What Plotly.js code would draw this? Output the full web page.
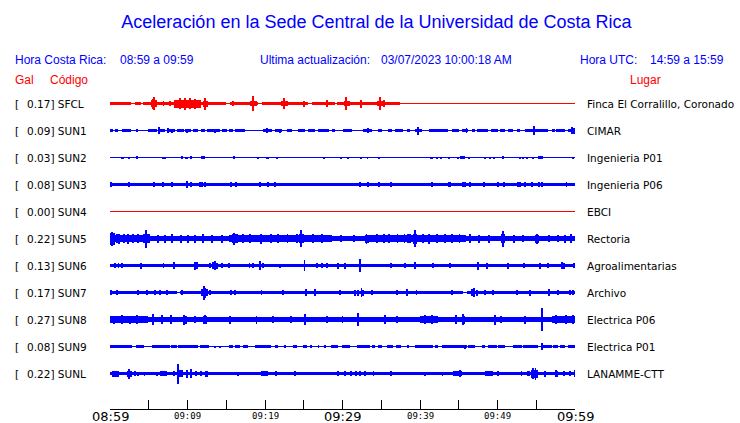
<!DOCTYPE html>
<html><head><meta charset="utf-8">
<script src="https://cdn.plot.ly/plotly-3.0.1.min.js"></script>
<style>html,body{margin:0;padding:0;background:#fff}#chart{width:740px;height:423px}</style>
</head><body><div id="chart"></div>
<script>
// ---------------- DATA ----------------
const stationCodes  = ['SFCL','SUN1','SUN2','SUN3','SUN4','SUN5','SUN6','SUN7','SUN8','SUN9','SUNL'];
const stationPlaces = ['Finca El Corralillo, Coronado','CIMAR','Ingenieria P01','Ingenieria P06','EBCI','Rectoria','Agroalimentarias','Archivo','Electrica P06','Electrica P01','LANAMME-CTT'];
const peakGal       = ['0.17','0.09','0.03','0.08','0.00','0.22','0.13','0.17','0.27','0.08','0.22'];
const tickMinutes   = [0,5,10,15,20,25,30,35,40,45,50,55,60];           // minutes after 08:59
const tickLabels    = ['08:59','','09:09','','09:19','','09:29','','09:39','','09:49','','09:59'];
const majorTickLabels = ['08:59','09:29','09:59'];

// Envelope of each record: bands = [startMin, endMin, halfAmplitude], spikes = [minute, halfAmplitude]
const sfclBands = [[0,2.7,1.5],[3.2,4.0,1.5],[4.2,15.0,1.5],[15.5,19.1,1.5],[19.6,25.6,1.5],[26.0,29.0,1.5],[29.3,37.4,1.5],
  [5.3,6.1,3.5],[8.3,11.8,4],[12.0,12.6,3],[18.0,19.0,2.5],[22.1,23.0,2.5],[30.2,31.0,2.5],[34.4,35.3,2.5]];
const sfclSpikes = [[5.7,6.5],[5.5,5],[9.0,5.5],[9.7,6],[10.3,5.5],[11.0,5],[12.2,6],[18.4,7.3],[22.4,5.3],[25.0,3],[28.0,3.3],
  [30.5,6.7],[32.4,4],[34.8,6.7],[6.9,2.5],[7.7,2.5],[15.9,2.5],[35.3,3.5]];

const sun1Bands = [[0,0.4,1.5],[0.65,1.0,1.5],[1.6,2.7,1.5],[3.4,3.65,1.5],[4.9,6.0,1.5],[6.45,7.1,1.5],[7.3,8.4,1.5],[8.6,9.5,1.5],
  [9.7,10.5,1.5],[10.75,11.4,1.5],[11.8,12.25,1.5],[12.5,14.2,1.5],[14.4,15.05,1.5],[15.3,15.9,1.5],[16.1,17.4,1.5],[19.8,20.9,1.5],
  [21.3,22.15,1.5],[22.8,23.45,1.5],[24.3,25.2,1.5],[25.5,26.45,1.5],[26.9,28.2,1.5],[28.6,29.0,1.5],[30.1,31.2,1.5],[32.7,33.8,1.5],
  [34.6,35.05,1.5],[35.9,36.35,1.5],[36.8,37.85,1.5],[38.3,38.7,1.5],[39.35,40.2,1.5],[41.1,43.65,1.5],[44.1,45.0,1.5],[45.4,46.2,1.5],
  [46.65,47.1,1.5],[47.3,48.8,1.5],[49.2,50.1,1.5],[50.3,50.95,1.5],[51.4,52.05,1.5],[52.5,52.9,1.5],[53.5,56.55,1.5],[57.0,57.4,1.5],
  [57.6,58.7,1.5],[59.1,60,1.5]];
const sun1Spikes = [[6.3,3.3],[7.5,2.3],[8.0,2],[9.9,2],[13.5,2],[20.2,2.7],[21.9,2],[33.3,2.3],[39.7,4],[46.0,2.3],[54.7,4.3],[59.6,3.3],[59.85,3]];

const sun2Bands = [[1.4,1.85,1],[2.3,2.6,1],[6.75,7.2,1],[9.7,10.0,1],[11.75,12.25,1.5],[20.1,20.5,1],[21.4,21.7,1],[32.25,32.5,1],
  [33.1,33.3,1],[41.3,41.7,1],[43.65,43.9,1],[45.15,45.8,1.3],[55.25,55.9,1.3]];
const sun2Spikes = [[3.5,1.5],[9.25,1.3],[10.45,1.3],[16.0,1.3],[19.15,1],[27.65,1],[29.8,1],[30.75,1],[34.7,1],[42.15,1],[42.7,1],
  [44.9,1],[46.3,1],[48.4,1],[49.0,1],[49.6,1],[50.75,1.3],[52.9,1],[53.35,1],[53.8,1],[54.55,1],[59.8,1]];

const sun3Bands = [[0,60,1.7]];
const sun3Spikes = [[0.1,2.3],[2.5,2.3],[5.7,2.3],[6.8,2.3],[7.95,2.3],[9.9,3.3],[10.4,2.3],[11.6,2.5],[11.9,2.5],[12.2,2.5],[15.6,2.3],
  [16.2,2.3],[19.3,2.3],[20.35,2.3],[21.3,2.3],[32.25,2.3],[33.25,2.3],[34.75,2.3],[36.25,2.3],[41.6,2.3],[43.7,2.3],[43.9,2.3],
  [45.5,2.3],[45.8,2.3],[46.45,2.3],[48.3,2.3],[50.1,2.3],[50.85,2.3],[52.7,2.3],[52.9,2.3],[53.6,2.3],[54.5,2.3],[55.3,2.3],[55.7,2.3],[58.9,2.3]];

const sun4Bands = [];
const sun4Spikes = [];

const sun5Bands = [[0,4.3,3.3],[4.3,15.3,2.7],[15.3,28.6,3.2],[28.6,33,2.5],[33,45.9,3.2],[45.9,60,2.7],[0,0.6,6],[4.3,5.2,4.5],
  [15.8,16.5,4.3],[24.4,25.0,4.5],[32.9,33.4,4],[38.3,38.8,4.5],[39.1,39.6,5],[50.5,51.0,4.5],[54.8,55.4,4]];
const sun5Spikes = [[4.7,9],[16.0,6],[24.7,8.3],[33.1,5],[39.35,8.3],[50.75,8],[55.05,5],[0.3,7],[0.9,4.5],[1.2,5],[1.8,4.3],[2.3,5],
  [3.0,4.3],[3.6,4.3],[6.2,4],[7.1,4],[8,4.5],[9.2,4],[10.1,4],[11.0,4],[12,4.5],[13.2,4],[14.5,4],[17.2,4.3],[18.1,4.5],[19.5,5],
  [20.8,4.5],[21.7,4.3],[22.9,4.5],[24.1,4.5],[26.2,4.3],[27.4,4.3],[29.8,3.5],[31.5,3.5],[34.5,4.3],[35.3,4.3],[36,4.5],[37.1,4.3],
  [38.0,4.5],[40.4,4.3],[41.2,5],[42.2,4.5],[43.2,4.5],[44.1,4.3],[45.1,4.3],[46.5,4.5],[47.6,4],[48.9,4],[52.1,4],[53.3,3.8],
  [56.6,3.8],[57.8,3.8],[58.7,4],[59.5,4.5]];

const sun6Bands = [[0,60,1.7]];
const sun6Spikes = [[0.65,2.3],[1.1,2.3],[1.5,2.3],[3.95,3],[6.9,2.7],[8.2,3.3],[11.0,4],[11.2,3.5],[12.9,2.7],[13.3,3.5],[13.55,4.3],
  [13.8,3],[14.4,2.3],[15.35,2.7],[18.0,2.5],[18.5,2.5],[19.35,4.7],[19.8,2.7],[21.95,2],[25.1,5.5],[26.7,2.7],[27.3,2.3],[27.95,2.7],
  [29.45,3],[30.3,3],[32.25,6.3],[36.25,2.7],[38.05,2.3],[39.35,3.3],[41.7,2.7],[43.85,2.7],[47.5,4],[48.6,3],[51.4,3],[53.4,2.3],
  [55.5,3],[56.55,2.7],[58.3,3.3],[58.6,3],[59.9,2.7]];

const sun7Bands = [[0,8.6,1.7],[9.05,45.6,1.7],[46.0,60,1.7],[11.8,12.6,3.5]];
const sun7Spikes = [[0.1,2.3],[0.85,2.3],[3.6,2.3],[4.75,2.3],[5.8,2.3],[6.45,2.3],[7.3,2.7],[9.25,2.3],[12.1,7],[12.3,5],[12.9,2.7],
  [15.6,2.7],[16.1,2.7],[19.55,2.3],[22.35,2.3],[25.25,3.7],[26.45,3.3],[29.65,2.3],[31.6,3],[32.0,3],[32.45,4.3],[32.7,3],[33.75,2.3],
  [37.0,2.3],[38.3,3.3],[39.55,2.3],[44.1,2.3],[46.7,3.5],[46.95,4.7],[47.3,3],[48.4,2.3],[49.4,2.3],[52.55,2.7],[54.2,3],[56.65,3.3],
  [57.85,2.3],[59.35,2.3],[59.8,2.3]];

const sun8Bands = [[0,60,2.7],[0,4.95,3.3],[40,42.35,3.3],[57,60,3.5],[9.45,9.9,4],[12.0,12.5,4],[45.4,45.8,4]];
const sun8Spikes = [[0.5,4],[1.5,4.5],[2.6,4],[3.5,4.2],[5.6,5.3],[6.75,4.5],[7.9,4.5],[9.6,5],[12.2,4.5],[15.5,4],[18.9,4],[25.15,5.3],
  [32.05,6.3],[35.5,4.5],[40.6,4.3],[41.5,4.3],[44.7,4.5],[45.6,5.3],[49.7,5],[53.6,4],[55.8,11.5],[57.5,4.5],[58.8,4.3],[59.8,4.5],
  [21,3.7],[28,3.5],[37,3.5],[50.5,3.7],[11,3.7],[23.3,3.5],[30.0,3.5]];

const sun9Bands = [[0,2.8,1.3],[3.35,4.45,1.3],[5.4,7.75,1.3],[7.9,8.6,1.3],[8.8,11.4,1.3],[11.6,12.8,1.3],[15.35,15.9,1.3],[16.1,16.8,1.3],
  [17.2,17.85,1.3],[18.7,20.8,1.3],[21.3,21.7,1.3],[23.65,24.1,1.3],[24.95,25.4,1.3],[25.8,26.0,1.3],[28.5,29.45,1.3],[29.9,31.0,1.3],
  [31.85,33.55,1.3],[33.75,34.2,1.3],[34.6,35.05,1.3],[35.8,36.55,1.3],[36.85,37.6,1.3],[39.35,41.7,1.3],[41.95,42.35,1.3],[42.8,46.0,1.3],
  [46.25,47.1,1.3],[48.0,48.4,1.3],[48.8,49.9,1.3],[50.1,50.95,1.3],[52.05,53.1,1.3],[53.3,55.25,1.3],[55.7,57.0,1.3],[57.2,57.85,1.3],
  [58.05,58.7,1.3],[59.15,60,1.3]];
const sun9Spikes = [[55.8,3.7],[13.55,1],[14.2,1],[22.6,1.3],[26.9,1.3],[27.75,1.3],[38.5,1.3],[45.8,2]];

const sunlBands = [[0,60,1.7],[0.2,1.1,3],[2.15,2.8,3],[6.45,7.3,2.5],[8.6,9.45,3.5],[12.25,12.7,3],[19.45,20.4,2.3],[44.3,45.4,2.3],
  [48.4,49.45,2.3],[53.75,54.2,2.7],[54.35,55.25,4],[57.4,57.85,3]];
const sunlSpikes = [[2.4,5],[3.2,2.7],[3.65,2],[4.45,2],[6.1,2],[8.2,2.3],[8.8,10],[9.9,4],[10.45,4.7],[11.05,2.7],[11.8,2.7],[16.5,2],
  [21.4,2.3],[23.85,2.3],[29.45,2.5],[30.3,2.3],[31.1,2.3],[31.7,2.3],[32.3,2.3],[32.9,2.3],[34.0,2.3],[36.25,2.3],[40.65,2],[42.9,2],
  [45.15,3.7],[50.1,2.3],[53.1,2.3],[54.6,5.5],[54.9,6],[56.1,3],[57.6,3.5],[58.6,2.7],[59.35,2.5],[59.95,3.3]];

const bandsByStation  = [sfclBands,sun1Bands,sun2Bands,sun3Bands,sun4Bands,sun5Bands,sun6Bands,sun7Bands,sun8Bands,sun9Bands,sunlBands];
const spikesByStation = [sfclSpikes,sun1Spikes,sun2Spikes,sun3Spikes,sun4Spikes,sun5Spikes,sun6Spikes,sun7Spikes,sun8Spikes,sun9Spikes,sunlSpikes];

// ---------------- STYLE / LAYOUT ----------------
const BLUE = '#0000ff', RED = '#ff0000';
const redStations = ['SFCL','SUN4'];
const FIRST = 14.5, SPACING = 27, SPIKE_W = 0.25;
const center = i => FIRST + SPACING * i;
const L = 110, R = 575, T = 89, B = 409;
const pxX = p => (p - L) / (R - L);
const pxY = p => (B - p) / (B - T);
const sans = 'Liberation Sans, Arial, sans-serif';
const dv = 'DejaVu Sans, sans-serif';

const traces = [];
stationCodes.forEach((code, i) => {
  const col = redStations.includes(code) ? RED : BLUE;
  const c = center(i);
  traces.push({type:'scatter', mode:'lines', x:[tickMinutes[0], tickMinutes[tickMinutes.length-1]], y:[c, c],
    line:{color:col, width:1}, hoverinfo:'skip'});
  const b = bandsByStation[i];
  if (b.length) traces.push({type:'bar', x:b.map(d => (d[0]+d[1])/2), width:b.map(d => d[1]-d[0]),
    base:b.map(d => c - d[2]), y:b.map(d => 2*d[2]), marker:{color:col, line:{width:0}}, hoverinfo:'skip'});
  const s = spikesByStation[i];
  if (s.length) traces.push({type:'bar', x:s.map(d => d[0]), width:s.map(() => SPIKE_W),
    base:s.map(d => c - d[1]), y:s.map(d => 2*d[1]), marker:{color:col, line:{width:0}}, hoverinfo:'skip'});
});

const ann = [];
const A = (x, y, text, color, size, family, anchor, xref, yref) => ann.push({
  x, y, text, xref: xref || 'paper', yref: yref || 'paper', showarrow:false, xanchor: anchor || 'left', yanchor:'middle',
  borderpad:0, borderwidth:0, font:{color, size, family}});

// header
A(pxX(15), pxY(60), 'Hora Costa Rica:', BLUE, 12, sans);
A(pxX(120), pxY(60), '08:59 a 09:59', BLUE, 12, sans);
A(pxX(260), pxY(60), 'Ultima actualización:', BLUE, 12, sans);
A(pxX(381), pxY(60), '03/07/2023 10:00:18 AM', BLUE, 12, sans);
A(pxX(580), pxY(60), 'Hora UTC:', BLUE, 12, sans);
A(pxX(650), pxY(60), '14:59 a 15:59', BLUE, 12, sans);
A(pxX(15), pxY(80), 'Gal', RED, 12, sans);
A(pxX(50), pxY(80), 'Código', RED, 12, sans);
A(pxX(630), pxY(80), 'Lugar', RED, 12, sans);

// station labels
stationCodes.forEach((code, i) => {
  A(pxX(15), center(i), '[', '#000', 10.5, dv, 'left', 'paper', 'y');
  A(pxX(27), center(i), peakGal[i] + '] ' + code, '#000', 10.5, dv, 'left', 'paper', 'y');
  A(pxX(587), center(i), stationPlaces[i], '#000', 10.5, dv, 'left', 'paper', 'y');
});

// time labels
tickMinutes.forEach((m, k) => {
  const t = tickLabels[k];
  if (!t) return;
  const major = majorTickLabels.includes(t);
  ann.push({x:m, y:0, xref:'x', yref:'paper', text:t, showarrow:false, xanchor:'center', yanchor:'middle',
    yshift: major ? -7.8 : -6.7, height: major ? 11 : 9, valign:'middle', borderpad:0, borderwidth:0,
    font:{color:'#000', size: major ? 13 : 9, family: major ? dv : 'DejaVu Sans Mono, monospace'}});
});

const layout = {
  width:740, height:423,
  margin:{l:L, r:740-R, t:T, b:423-B, pad:0},
  paper_bgcolor:'#fff', plot_bgcolor:'#fff',
  showlegend:false, barmode:'overlay', bargap:0,
  title:{text:'Aceleración en la Sede Central de la Universidad de Costa Rica', x:376.5/740, xref:'container', xanchor:'center',
    y:1-22/423, yref:'container', yanchor:'middle', font:{family:sans, size:18, color:BLUE}},
  xaxis:{range:[0,60], showgrid:false, zeroline:false, showline:true, linecolor:'#000', linewidth:1,
    ticks:'inside', ticklen:9, tickwidth:1, tickcolor:'#000', tickvals:tickMinutes, showticklabels:false, fixedrange:true},
  yaxis:{range:[B-T,0], visible:false, showgrid:false, zeroline:false, fixedrange:true},
  annotations: ann
};
Plotly.newPlot('chart', traces, layout, {staticPlot:true, displayModeBar:false});
</script>
</body></html>
